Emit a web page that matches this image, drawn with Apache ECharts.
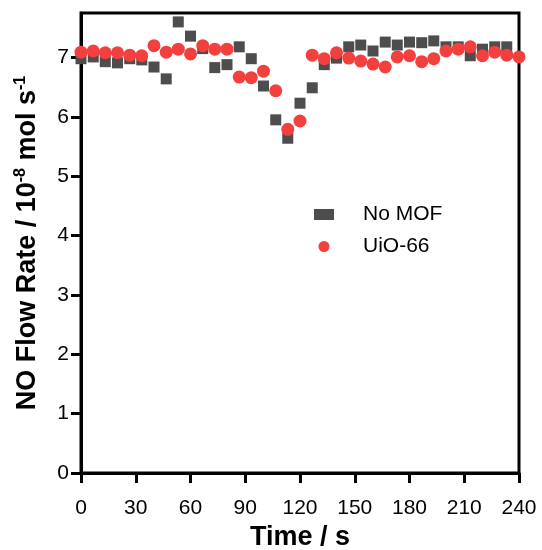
<!DOCTYPE html>
<html><head><meta charset="utf-8">
<script src="https://cdn.jsdelivr.net/npm/echarts@6/dist/echarts.min.js"></script>
<style>html,body{margin:0;padding:0;background:#fff}#c{width:542px;height:550px}</style>
</head><body><div id="c"></div>
<script>
// Time points (s)
const timeNoMOF = [0, 6.7, 13.3, 20, 26.7, 33.3, 40, 46.7, 53.3, 60, 66.7, 73.3, 80, 86.7, 93.3, 100, 106.7, 113.3, 120, 126.7, 133.3, 140, 146.7, 153.3, 160, 166.7, 173.3, 180, 186.7, 193.3, 200, 206.7, 213.3, 220, 226.7, 233.3];
const valNoMOF = [6.98, 7.01, 6.93, 6.91, 6.98, 6.96, 6.84, 6.64, 7.60, 7.36, 7.15, 6.83, 6.88, 7.18, 6.98, 6.52, 5.95, 5.64, 6.23, 6.49, 6.88, 6.99, 7.18, 7.21, 7.11, 7.26, 7.21, 7.26, 7.25, 7.28, 7.18, 7.18, 7.03, 7.14, 7.18, 7.18];
const timeUiO = [0, 6.7, 13.3, 20, 26.7, 33.3, 40, 46.7, 53.3, 60, 66.7, 73.3, 80, 86.7, 93.3, 100, 106.7, 113.3, 120, 126.7, 133.3, 140, 146.7, 153.3, 160, 166.7, 173.3, 180, 186.7, 193.3, 200, 206.7, 213.3, 220, 226.7, 233.3, 240];
const valUiO = [7.09, 7.11, 7.08, 7.08, 7.04, 7.03, 7.20, 7.09, 7.14, 7.06, 7.20, 7.14, 7.14, 6.67, 6.66, 6.77, 6.44, 5.79, 5.93, 7.04, 6.98, 7.08, 6.99, 6.94, 6.89, 6.84, 7.01, 7.03, 6.93, 6.98, 7.11, 7.14, 7.18, 7.03, 7.09, 7.04, 7.01];
const xTicks = [0, 30, 60, 90, 120, 150, 180, 210, 240];
const yTicks = [0, 1, 2, 3, 4, 5, 6, 7];
const seriesNames = ['No MOF', 'UiO-66'];

const font = 'Liberation Sans, Arial, sans-serif';
const chart = echarts.init(document.getElementById('c'));
chart.setOption({
  animation: false,
  grid: {left: 81, right: 23, top: 13, bottom: 77, outerBoundsMode: 'none', containLabel: false,
         show: true, borderColor: '#000', borderWidth: 3, backgroundColor: 'transparent'},
  legend: {
    left: 309, top: 199, orient: 'vertical', itemWidth: 20, itemHeight: 11, itemGap: 11,
    textStyle: {fontFamily: font, fontSize: 21, color: '#000', padding: [0, 0, 0, 24]},
    data: [{name: seriesNames[0], icon: 'rect'}, {name: seriesNames[1], icon: 'circle'}]
  },
  xAxis: {
    type: 'value', min: 0, max: 240, interval: 30,
    name: 'Time / s', nameLocation: 'middle', nameGap: 50,
    nameTextStyle: {fontFamily: font, fontSize: 27, fontWeight: 'bold', color: '#000'},
    axisLine: {lineStyle: {color: '#000', width: 3}},
    axisTick: {inside: false, length: 10, lineStyle: {color: '#000', width: 3}, customValues: xTicks},
    axisLabel: {fontFamily: font, fontSize: 21, color: '#000', margin: 25, customValues: xTicks},
    splitLine: {show: false}
  },
  yAxis: {
    type: 'value', min: 0, max: 7.75,
    name: '{b|NO Flow Rate / 10}{s|-8}{b| mol s}{s|-1}', nameLocation: 'middle', nameGap: 40, nameRotate: 90,
    nameTextStyle: {fontFamily: font, color: '#000', rich: {
      b: {fontFamily: font, fontSize: 27, fontWeight: 'bold', color: '#000', verticalAlign: 'bottom'},
      s: {fontFamily: font, fontSize: 16, fontWeight: 'bold', color: '#000', verticalAlign: 'top', padding: [0, 0, 12, 0]}
    }},
    axisLine: {lineStyle: {color: '#000', width: 3}},
    axisTick: {inside: false, length: 10, lineStyle: {color: '#000', width: 3}, customValues: yTicks},
    axisLabel: {fontFamily: font, fontSize: 21, color: '#000', margin: 12, customValues: yTicks},
    splitLine: {show: false}
  },
  series: [
    {name: seriesNames[0], type: 'scatter', symbol: 'rect', symbolSize: 11,
     itemStyle: {color: '#4d4d4d', opacity: 1},
     data: timeNoMOF.map((t, i) => [t, valNoMOF[i]]), z: 2},
    {name: seriesNames[1], type: 'scatter', symbol: 'circle', symbolSize: 13,
     itemStyle: {color: '#f43f3f', opacity: 1},
     data: timeUiO.map((t, i) => [t, valUiO[i]]), z: 3}
  ]
});
</script></body></html>
